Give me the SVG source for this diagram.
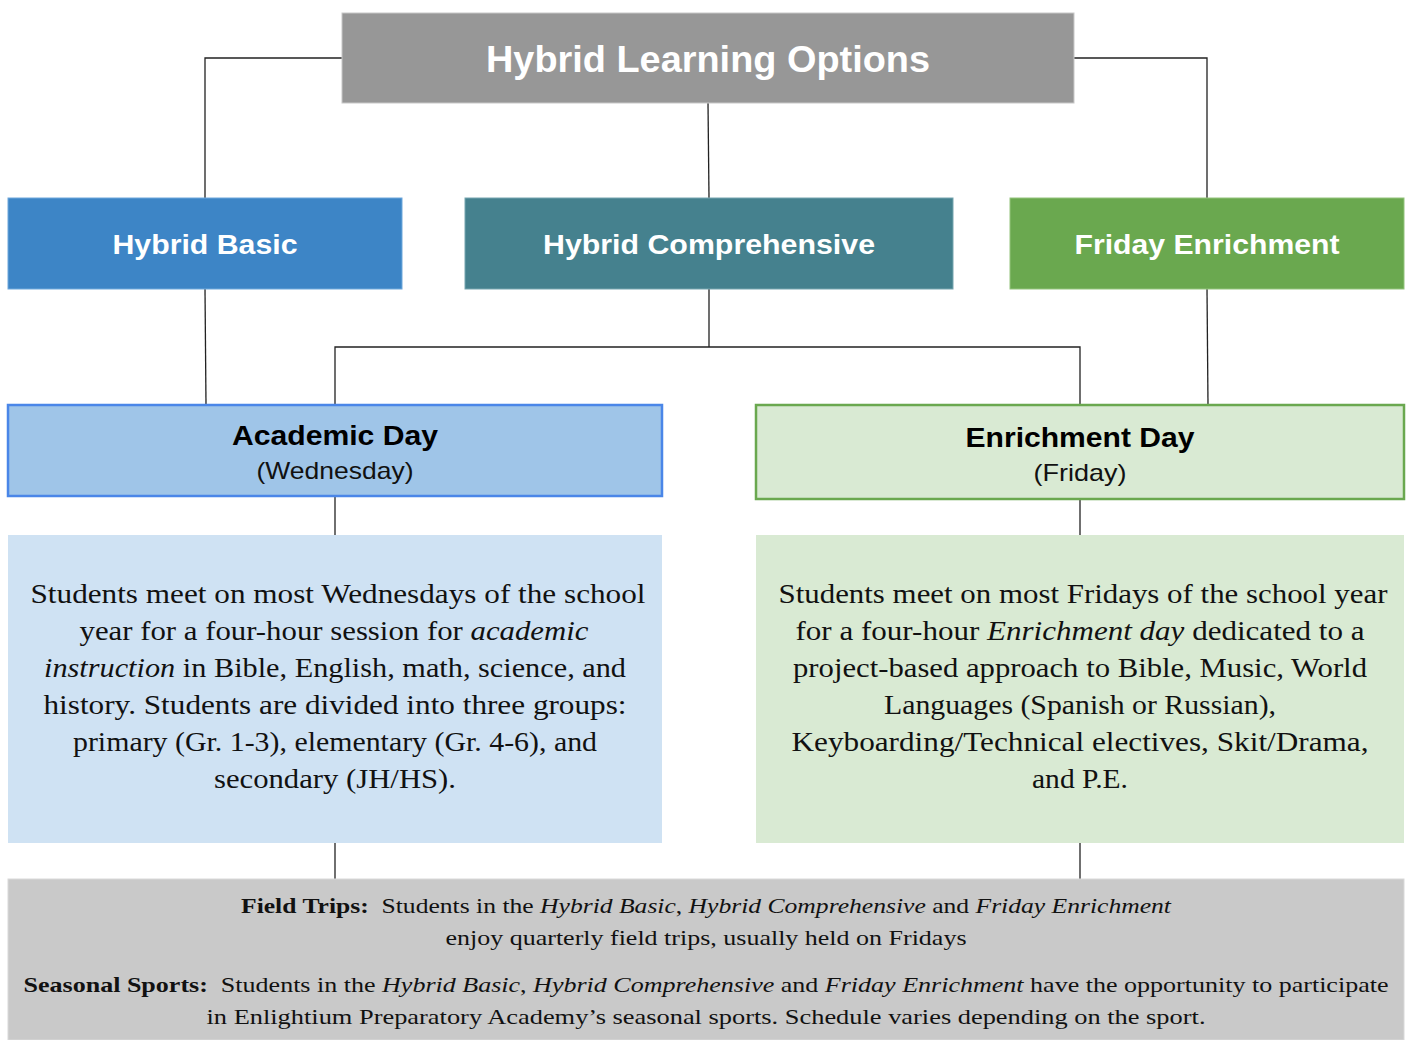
<svg xmlns="http://www.w3.org/2000/svg" width="1413" height="1040" viewBox="0 0 1413 1040">
<style>
.hd{font-family:"Liberation Sans",Arial,sans-serif;font-weight:bold;fill:#fff;text-anchor:middle}
.t1{font-family:"Liberation Sans",Arial,sans-serif;font-weight:bold;fill:#000;text-anchor:middle;font-size:28px}
.t2{font-family:"Liberation Sans",Arial,sans-serif;fill:#111;text-anchor:middle;font-size:24px}
.bd{font-family:"Liberation Serif","DejaVu Serif",serif;fill:#111;text-anchor:middle;font-size:27px}
.ft{font-family:"Liberation Serif","DejaVu Serif",serif;fill:#111;text-anchor:middle;font-size:22px}
.i{font-style:italic}
.b{font-weight:bold}
.ln{fill:none;stroke:#222;stroke-width:1.3}
</style>
<g id="connectors">
<path class="ln" d="M342,58 H205 V198"/>
<path class="ln" d="M708,103 L709,198"/>
<path class="ln" d="M1074,58 H1207 V198"/>
<path class="ln" d="M205,289 L206,405"/>
<path class="ln" d="M709,289 V347 M335,405 V347 H1080 V405"/>
<path class="ln" d="M1207,289 L1208,405"/>
<path class="ln" d="M335,496 V535"/>
<path class="ln" d="M1080,499 V535"/>
<path class="ln" d="M335,843 V879"/>
<path class="ln" d="M1080,843 V879"/>
</g>
<g id="root">
<rect x="342" y="13" width="732" height="90" fill="#979797" stroke="#c8c8c8" stroke-width="1"/>
<text class="hd" x="708" y="72" font-size="36" textLength="444" lengthAdjust="spacingAndGlyphs">Hybrid Learning Options</text>
</g>
<g id="hybrid-basic">
<rect x="8" y="198" width="394" height="91" fill="#3d85c6" stroke="#6fa8dc" stroke-width="1"/>
<text class="hd" x="205" y="254" font-size="28" textLength="185" lengthAdjust="spacingAndGlyphs">Hybrid Basic</text>
</g>
<g id="hybrid-comprehensive">
<rect x="465" y="198" width="488" height="91" fill="#45818e" stroke="#76a5af" stroke-width="1"/>
<text class="hd" x="709" y="254" font-size="28" textLength="332" lengthAdjust="spacingAndGlyphs">Hybrid Comprehensive</text>
</g>
<g id="friday-enrichment">
<rect x="1010" y="198" width="394" height="91" fill="#6aa84f" stroke="#93c47d" stroke-width="1"/>
<text class="hd" x="1207" y="254" font-size="28" textLength="265" lengthAdjust="spacingAndGlyphs">Friday Enrichment</text>
</g>
<g id="academic-day">
<rect x="8" y="405" width="654" height="91" fill="#9fc5e8" stroke="#4a86e8" stroke-width="2.5"/>
<text class="t1" x="335" y="445" textLength="206" lengthAdjust="spacingAndGlyphs">Academic Day</text>
<text class="t2" x="335" y="479" textLength="157" lengthAdjust="spacingAndGlyphs">(Wednesday)</text>
</g>
<g id="enrichment-day">
<rect x="756" y="405" width="648" height="94" fill="#d9ead3" stroke="#6aa84f" stroke-width="2.5"/>
<text class="t1" x="1080" y="447" textLength="229" lengthAdjust="spacingAndGlyphs">Enrichment Day</text>
<text class="t2" x="1080" y="481" textLength="93" lengthAdjust="spacingAndGlyphs">(Friday)</text>
</g>
<g id="academic-text">
<rect x="8" y="535" width="654" height="308" fill="#cfe2f3"/>
<text class="bd" x="338" y="603" textLength="615" lengthAdjust="spacingAndGlyphs">Students meet on most Wednesdays of the school</text>
<text class="bd" x="334" y="640" textLength="509" lengthAdjust="spacingAndGlyphs">year for a four-hour session for <tspan class="i">academic</tspan></text>
<text class="bd" x="335" y="677" textLength="582" lengthAdjust="spacingAndGlyphs"><tspan class="i">instruction</tspan> in Bible, English, math, science, and</text>
<text class="bd" x="335" y="714" textLength="583" lengthAdjust="spacingAndGlyphs">history. Students are divided into three groups:</text>
<text class="bd" x="335" y="751" textLength="524" lengthAdjust="spacingAndGlyphs">primary (Gr. 1-3), elementary (Gr. 4-6), and</text>
<text class="bd" x="335" y="788" textLength="242" lengthAdjust="spacingAndGlyphs">secondary (JH/HS).</text>
</g>
<g id="enrichment-text">
<rect x="756" y="535" width="648" height="308" fill="#d9ead3"/>
<text class="bd" x="1083" y="603" textLength="609" lengthAdjust="spacingAndGlyphs">Students meet on most Fridays of the school year</text>
<text class="bd" x="1080" y="640" textLength="569" lengthAdjust="spacingAndGlyphs">for a four-hour <tspan class="i">Enrichment day</tspan> dedicated to a</text>
<text class="bd" x="1080" y="677" textLength="574" lengthAdjust="spacingAndGlyphs">project-based approach to Bible, Music, World</text>
<text class="bd" x="1080" y="714" textLength="392" lengthAdjust="spacingAndGlyphs">Languages (Spanish or Russian),</text>
<text class="bd" x="1080" y="751" textLength="577" lengthAdjust="spacingAndGlyphs">Keyboarding/Technical electives, Skit/Drama,</text>
<text class="bd" x="1080" y="788" textLength="96" lengthAdjust="spacingAndGlyphs">and P.E.</text>
</g>
<g id="footer">
<rect x="8" y="879" width="1396" height="161" fill="#c9c9c9" stroke="#d9d9d9" stroke-width="1"/>
<text class="ft" xml:space="preserve" x="706" y="913" textLength="930" lengthAdjust="spacingAndGlyphs"><tspan class="b">Field Trips:</tspan>  Students in the <tspan class="i">Hybrid Basic</tspan>, <tspan class="i">Hybrid Comprehensive</tspan> and <tspan class="i">Friday Enrichment</tspan></text>
<text class="ft" x="706" y="945" textLength="521" lengthAdjust="spacingAndGlyphs">enjoy quarterly field trips, usually held on Fridays</text>
<text class="ft" xml:space="preserve" x="706" y="992" textLength="1365" lengthAdjust="spacingAndGlyphs"><tspan class="b">Seasonal Sports:</tspan>  Students in the <tspan class="i">Hybrid Basic</tspan>, <tspan class="i">Hybrid Comprehensive</tspan> and <tspan class="i">Friday Enrichment</tspan> have the opportunity to participate</text>
<text class="ft" x="706" y="1024" textLength="999" lengthAdjust="spacingAndGlyphs">in Enlightium Preparatory Academy’s seasonal sports. Schedule varies depending on the sport.</text>
</g>
</svg>
